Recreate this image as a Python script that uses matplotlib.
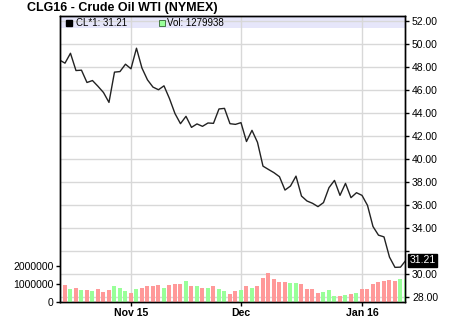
import matplotlib
matplotlib.use('Agg')
import matplotlib.pyplot as plt
import matplotlib.transforms as mtransforms
import numpy as np
import pandas as pd

plt.rcParams['font.family'] = ['Liberation Sans', 'DejaVu Sans']

# trading days Oct 14 2015 .. Jan 14 2016 (NYMEX holidays removed)
days = pd.bdate_range('2015-10-14', '2016-01-14').drop(
    pd.to_datetime(['2015-11-26', '2015-12-25', '2016-01-01']))

close = [48.61, 48.33, 49.19, 47.69, 47.72, 46.65, 46.82, 46.32, 45.78, 44.92,
         47.55, 47.60, 48.24, 47.84, 49.63, 47.90, 46.88, 46.25, 46.02, 46.36,
         45.25, 43.95, 43.07, 43.71, 42.75, 43.05, 42.84, 43.13, 43.10, 44.35,
         44.40, 43.07, 43.01, 43.16, 41.52, 42.49, 41.45, 39.38, 39.09, 38.81,
         38.46, 37.30, 37.65, 38.51, 36.78, 36.35, 36.15, 35.86, 36.21, 37.51,
         38.14, 36.84, 37.88, 36.64, 37.07, 36.84, 35.97, 34.13, 33.38, 33.23,
         31.47, 30.58, 30.60, 31.21]

# volume from the second day on (first day's bar is outside the plot)
volume = [920000, 700000, 750000, 640000, 640000, 590000, 700000, 540000, 640000,
          860000, 750000, 590000, 480000, 700000, 750000, 860000, 860000, 960000,
          800000, 930000, 1020000, 1020000, 1180000, 860000, 860000, 800000, 750000,
          860000, 700000, 590000, 450000, 590000, 640000, 910000, 800000, 860000,
          1340000, 1610000, 1290000, 1100000, 1130000, 1070000, 1050000, 1020000,
          700000, 700000, 480000, 540000, 640000, 320000, 320000, 370000, 430000,
          480000, 700000, 700000, 1020000, 1130000, 1180000, 1210000, 1180000,
          1290000, 1279938]

month_starts = ['2015-11-02', '2015-12-01', '2016-01-04']
month_labels = ['Nov 15', 'Dec', 'Jan 16']
price_ticks = list(range(28, 53, 2))
vol_ticks = [0, 1000000, 2000000]
title = 'CLG16 - Crude Oil WTI (NYMEX)'

fig = plt.figure(figsize=(4.5, 3.17), dpi=100)
ax = fig.add_axes([60.3 / 450, 15 / 317, 344.7 / 450, 286 / 317])
axv = ax.twinx()
x = np.arange(len(days))

# legend band
ax.add_patch(plt.Rectangle((0, 1 - 12 / 286), 1, 12 / 286, transform=ax.transAxes,
                           color='#e6e6fa', zorder=0.2, lw=0))

ax.plot(x, close, color='#222222', lw=1.0, zorder=3)
ax.set_ylim(27.57, 52.43)
ax.yaxis.tick_right()
ax.yaxis.set_label_position('right')
ax.set_yticks(price_ticks)
ax.set_yticklabels(['' if v == 32 else '%.2f' % v for v in price_ticks])
tick_idx = days.get_indexer(pd.to_datetime(month_starts))
ax.set_xticks(tick_idx)
ax.set_xticklabels(month_labels, fontweight='bold', fontsize=7.6)
ax.grid(True, color='#d8d8d8', lw=1)
ax.set_axisbelow(True)
ax.tick_params(axis='y', direction='out', length=3, width=1, labelsize=7.5, pad=2)
ax.tick_params(axis='x', direction='out', length=3, width=1, pad=1)

cols = ['#99ff99' if close[i] >= close[i - 1] else '#ff9999' for i in range(1, len(close))]
axv.bar(x[1:], volume, width=0.73, color=cols, zorder=2)
axv.set_ylim(0, 15.8e6)
axv.yaxis.tick_left()
axv.yaxis.set_label_position('left')
axv.set_yticks(vol_ticks)
axv.set_yticklabels([str(v) for v in vol_ticks])
axv.tick_params(axis='y', direction='out', length=3, width=1, labelsize=7.5, pad=2)
ax.set_xlim(0.15, 62.82)

for a in (ax, axv):
    for s in a.spines.values():
        s.set_color('black')
        s.set_linewidth(1)

# current price marker on the right axis
tr = mtransforms.blended_transform_factory(ax.transAxes, ax.transData)
ax.text(1.013, close[-1], '%.2f' % close[-1], transform=tr, color='white', fontsize=7.5,
        va='center', ha='left', clip_on=False,
        bbox=dict(boxstyle='square,pad=0.15', fc='black', ec='black'))

# legend entries in the band
ax.plot([0.025], [0.974], marker='s', ms=4.5, color='black', transform=ax.transAxes,
        clip_on=False, zorder=5)
ax.text(0.046, 0.974, 'CL*1: %.2f' % close[-1], transform=ax.transAxes, fontsize=7,
        va='center', ha='left')
ax.plot([0.294], [0.974], marker='s', ms=4.5, mfc='#99ff99', mec='#336633', mew=0.6,
        transform=ax.transAxes, clip_on=False, zorder=5)
ax.text(0.31, 0.974, 'Vol: %d' % volume[-1], transform=ax.transAxes, fontsize=7,
        va='center', ha='left')

fig.text(27 / 450, 1 - 8 / 317, title, fontsize=9, fontweight='bold', va='center', ha='left')

fig.savefig('out.png', dpi=100)
